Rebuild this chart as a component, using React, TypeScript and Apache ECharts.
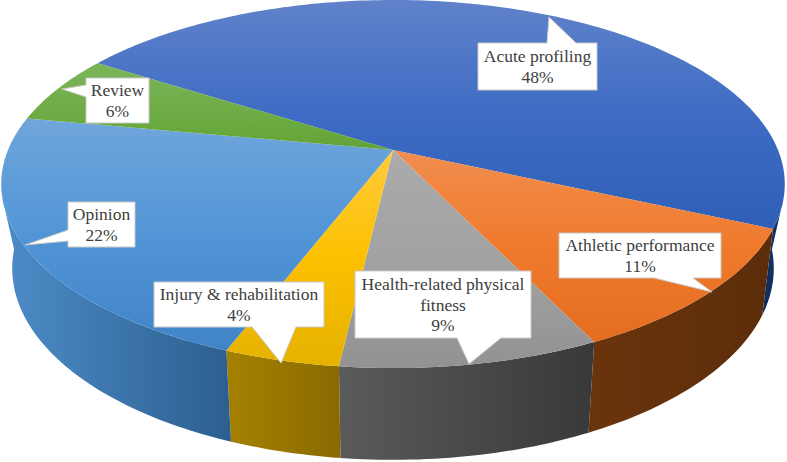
import React, { useEffect, useRef } from "react";
import * as echarts from "echarts";

const labelLines = [["Acute profiling"], ["Athletic performance"], ["Health-related physical", "fitness"], ["Injury & rehabilitation"], ["Opinion"], ["Review"]];
const shares = [47.7, 11.1, 9.0, 4.0, 22.1, 6.1];
const topColors = [
  ["#6082ca", "#3e6cc4", "#2f5fb6"],
  ["#f18e50", "#f07a2c", "#e46c1f"],
  ["#ababab", "#a2a2a2", "#929292"],
  ["#ffcb3c", "#fdc000", "#e5b200"],
  ["#70a6dc", "#5295d6", "#4084c8"],
  ["#7ab55a", "#70ad47", "#62a336"],
];
const wallColors = [
  ["#0f2c58", "#14366b"],
  ["#6a340c", "#5c2d0b"],
  ["#5a5a5a", "#393939"],
  ["#a68100", "#896a00"],
  ["#4d8cc8", "#2c5f90"],
  ["#3f6a28", "#3f6a28"],
];

// geometry of the tilted disc
const START_ANGLE = 212.5;
const CX = 393, APEX_Y = 150, RX = 385, PERSP = -0.185, RISE = 150;
const BASE_X = 0.972, BASE_Y_SLOPE = 1.04, BASE_Y_OFFSET = 77;
const TOP_FROM = 15, TOP_TO = 165, BASE_FROM = 5, BASE_TO = 175;
const LINE_STEP = 20.7;

// callout boxes: [left, top, right, bottom], tail [base1, tip, base2]
const calloutBoxes = [
  { box: [478, 43, 597, 90], tail: [[547, 43], [549, 17], [576, 43]], side: "top" },
  { box: [559, 233, 721, 278], tail: [[693, 278], [712, 292], [654, 278]], side: "bottom" },
  { box: [355, 271, 531, 338], tail: [[501, 338], [469, 364], [457, 338]], side: "bottom" },
  { box: [154, 282, 324, 327], tail: [[296, 327], [281, 363], [252, 327]], side: "bottom" },
  { box: [68, 202, 135, 247], tail: [[68, 241], [25, 245], [68, 230]], side: "left" },
  { box: [86, 78, 149, 123], tail: [[86, 97], [62, 89], [86, 85]], side: "left" },
];

const rim = (deg: number) => {
  const t = (deg * Math.PI) / 180;
  const s = Math.sin(t), c = Math.cos(t);
  const w = 1 + PERSP * s;
  return [CX + (RX * c) / w, (RISE * s + APEX_Y) / w];
};
const base = (p: number[]) => [CX + (p[0] - CX) * BASE_X, p[1] * BASE_Y_SLOPE + BASE_Y_OFFSET];

const range = (a: number, b: number) => {
  const pts: number[] = [];
  const n = Math.max(2, Math.ceil(Math.abs(b - a)));
  for (let i = 0; i <= n; i++) pts.push(a + ((b - a) * i) / n);
  return pts;
};

const grad = (stops: string[], horizontal: boolean) => ({
  type: "linear",
  x: 0, y: 0,
  x2: horizontal ? 1 : 0,
  y2: horizontal ? 0 : 1,
  colorStops: stops.map((color, i) => ({ offset: i / (stops.length - 1), color })),
});

const sliceRows: number[][] = [];
{
  let a = START_ANGLE;
  shares.forEach((v, i) => {
    const sweep = (v / 100) * 360;
    sliceRows.push([a, a + sweep, i]);
    a += sweep;
  });
}

const wallPieces = (a: number, b: number) => {
  const out: number[][] = [];
  for (const shift of [0, 360]) {
    const bLo = Math.max(a, BASE_FROM + shift);
    const bHi = Math.min(b, BASE_TO + shift);
    if (bHi <= bLo) continue;
    const tLo = Math.max(a, TOP_FROM + shift);
    const tHi = Math.min(b, TOP_TO + shift);
    const top = tHi > tLo ? range(tLo, tHi).map(rim) : [];
    const bottom = range(bLo, bHi).map(rim).map(base).reverse();
    out.push([...top, ...bottom] as any);
  }
  return out as unknown as number[][][];
};

export default function App() {
  const ref = useRef<HTMLDivElement>(null);
  useEffect(() => {
    document.body.style.margin = "0";
    const chart = echarts.init(ref.current!, null, { renderer: "svg" });
    const graphics: any[] = [];
    calloutBoxes.forEach((c, i) => {
      const [l, t, r, b] = c.box;
      let pts: number[][];
      if (c.side === "top") pts = [[l, t], ...c.tail, [r, t], [r, b], [l, b]];
      else if (c.side === "bottom") pts = [[l, t], [r, t], [r, b], ...c.tail, [l, b]];
      else pts = [[l, t], [r, t], [r, b], [l, b], ...c.tail];
      graphics.push({
        type: "polygon",
        z: 10,
        shape: { points: pts },
        style: { fill: "#ffffff", stroke: "#c9c9c9", lineWidth: 1 },
      });
      const lines = [...labelLines[i], `${Math.round(shares[i])}%`];
      const midY = (t + b) / 2;
      lines.forEach((line, k) => {
        graphics.push({
          type: "text",
          z: 11,
          x: (l + r) / 2,
          y: midY + (k - (lines.length - 1) / 2) * LINE_STEP,
          style: {
            text: line,
            fill: "#404040",
            fontFamily: "Liberation Serif",
            fontSize: 17.5,
            align: "center",
            verticalAlign: "middle",
          },
        });
      });
    });
    chart.setOption({
      animation: false,
      backgroundColor: "#ffffff",
      graphic: { elements: graphics },
      series: [
        {
          type: "custom",
          coordinateSystem: "none",
          silent: true,
          name: "side",
          data: sliceRows,
          renderItem: (_p: any, api: any) => {
            const i = api.value(2);
            const children = wallPieces(api.value(0), api.value(1)).map((points) => ({
              type: "polygon",
              shape: { points },
              style: { fill: grad(wallColors[i], true) },
            }));
            return { type: "group", children };
          },
        },
        {
          type: "custom",
          coordinateSystem: "none",
          silent: true,
          name: "top",
          data: sliceRows,
          renderItem: (_p: any, api: any) => {
            const i = api.value(2);
            const pts = [[CX, APEX_Y], ...range(api.value(0), api.value(1)).map(rim)];
            return {
              type: "polygon",
              shape: { points: pts },
              style: { fill: grad(topColors[i], false) },
            };
          },
        },
      ],
    });
    return () => chart.dispose();
  }, []);
  return <div ref={ref} style={{ width: 787, height: 462 }} />;
}
